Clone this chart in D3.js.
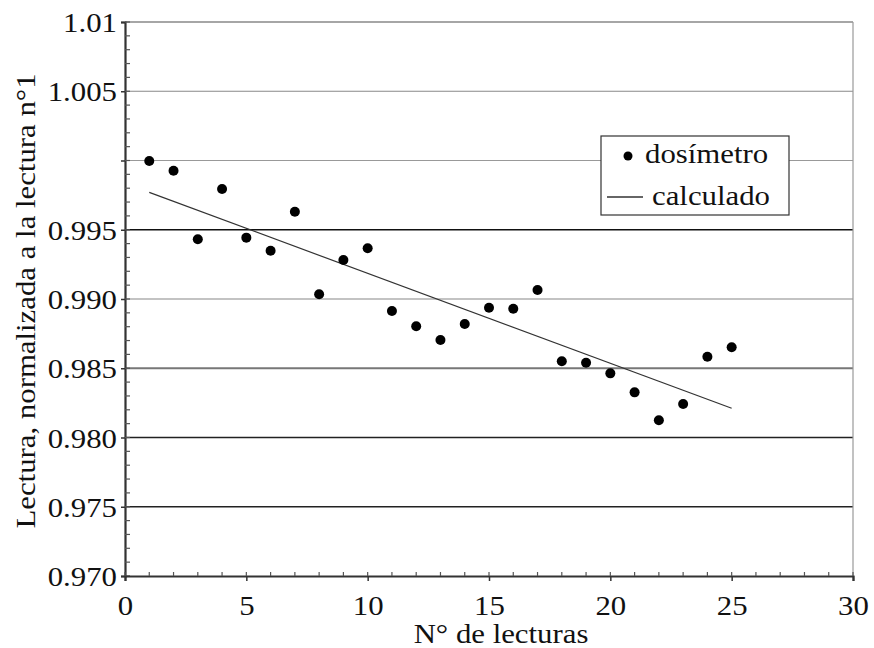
<!DOCTYPE html>
<html><head><meta charset="utf-8"><script src="https://cdn.jsdelivr.net/npm/d3@7"></script></head><body style="margin:0">
<svg id="c" width="874" height="648"></svg>
<script>
const readings = [1,2,3,4,5,6,7,8,9,10,11,12,13,14,15,16,17,18,19,20,21,22,23,24,25];
const dosimetro = [0.99996,0.99926,0.99431,0.99794,0.99443,0.99349,0.99630,0.99034,0.99282,0.99366,
  0.98913,0.98803,0.98704,0.98820,0.98937,0.98930,0.99065,0.98550,0.98540,0.98463,
  0.98326,0.98124,0.98242,0.98583,0.98651];
const calcX = [1,25];
const calcY = [0.99770,0.98211];
const yTicks = [0.970,0.975,0.980,0.985,0.990,0.995,1.000,1.005,1.010];
const yTickLabels = ["0.970","0.975","0.980","0.985","0.990","0.995","","1.005","1.01"];
const xTicks = [0,5,10,15,20,25,30];
const xTickLabels = ["0","5","10","15","20","25","30"];
const legendLabels = ["dos\u00edmetro","calculado"];
const xTitle = "N\u00b0 de lecturas";
const yTitle = "Lectura, normalizada a la lectura n\u00b01";

const FONT = "'Liberation Serif', monospace";
const SX = 1.1;
const svg = d3.select("#c");
const x = d3.scaleLinear().domain([0,30]).range([125,853]);
const y = d3.scaleLinear().domain([0.970,1.010]).range([576,22]);

const gridStyle = {"0.975":["#222",1.4],"0.98":["#222",1.6],"0.985":["#777",1.8],"0.99":["#888",1.2],
  "0.995":["#111",1.6],"1":["#999",1.2],"1.005":["#888",1.2],"1.01":["#888",1.4]};
svg.append("g").selectAll("line").data(yTicks.slice(1)).join("line")
  .attr("x1",x(0)).attr("x2",x(30))
  .attr("y1",d=>y(d)).attr("y2",d=>y(d))
  .attr("stroke",d=>(gridStyle[String(+d.toFixed(3))]||["#888",1.2])[0])
  .attr("stroke-width",d=>(gridStyle[String(+d.toFixed(3))]||["#888",1.2])[1]);
svg.append("line").attr("x1",x(30)).attr("x2",x(30)).attr("y1",y(1.01)).attr("y2",y(0.97))
  .attr("stroke","#999").attr("stroke-width",1.2);

const yAxis = d3.axisLeft(y).tickValues(yTicks).tickSize(4).tickPadding(6)
  .tickFormat((d,i)=>yTickLabels[i]);
const gy = svg.append("g").attr("transform",`translate(${x(0)},0)`).call(yAxis);
gy.select(".domain").attr("stroke","#333").attr("stroke-width",2.2);
gy.selectAll(".tick line").attr("stroke","#333").attr("stroke-width",1.5);
gy.selectAll(".tick text").attr("x",-8/SX).attr("dy","0.34em").attr("fill","#111")
  .attr("transform",`scale(${SX},1)`)
  .style("font-family",FONT).style("font-size","28px");
svg.append("g").selectAll("line").data(d3.range(0,41).map(i=>0.970+i*0.001)).join("line")
  .attr("x1",x(0)).attr("x2",x(0)+5).attr("y1",d=>y(d)).attr("y2",d=>y(d))
  .attr("stroke","#555").attr("stroke-width",1.2);

const xAxis = d3.axisBottom(x).tickValues(xTicks).tickSize(5).tickPadding(12)
  .tickFormat((d,i)=>xTickLabels[i]);
const gx = svg.append("g").attr("transform",`translate(0,${y(0.97)})`).call(xAxis);
gx.select(".domain").attr("stroke","#333").attr("stroke-width",2.2);
gx.selectAll(".tick line").attr("stroke","#333").attr("stroke-width",1.5);
gx.selectAll(".tick text").attr("fill","#111").attr("dy","0.78em")
  .attr("transform",`scale(${SX},1)`)
  .style("font-family",FONT).style("font-size","28px");
svg.append("g").selectAll("line").data(d3.range(0,31)).join("line")
  .attr("x1",d=>x(d)).attr("x2",d=>x(d)).attr("y1",y(0.97)).attr("y2",y(0.97)-4)
  .attr("stroke","#555").attr("stroke-width",1.2);

svg.append("path").datum(calcX.map((d,i)=>[d,calcY[i]]))
  .attr("d",d3.line().x(d=>x(d[0])).y(d=>y(d[1])))
  .attr("fill","none").attr("stroke","#333").attr("stroke-width",1.2);

svg.append("g").selectAll("circle").data(readings).join("circle")
  .attr("cx",d=>x(d)).attr("cy",(d,i)=>y(dosimetro[i])).attr("r",5).attr("fill","#000");

const lg = svg.append("g");
lg.append("rect").attr("x",601).attr("y",136).attr("width",188).attr("height",79)
  .attr("fill","#fff").attr("stroke","#333").attr("stroke-width",1.2);
lg.append("circle").attr("cx",628).attr("cy",156).attr("r",4.5).attr("fill","#000");
lg.append("line").attr("x1",607).attr("x2",643).attr("y1",197).attr("y2",197).attr("stroke","#333").attr("stroke-width",1.3);
const texts = [
  {t:legendLabels[0], x:645, y:163, a:"start", r:0},
  {t:legendLabels[1], x:652, y:205, a:"start", r:0},
  {t:xTitle, x:501, y:643, a:"middle", r:0},
  {t:yTitle, x:35, y:301, a:"middle", r:-90}
];
svg.append("g").selectAll("text").data(texts).join("text")
  .attr("transform",d=>`translate(${d.x},${d.y}) rotate(${d.r}) scale(${SX},1)`)
  .attr("text-anchor",d=>d.a).attr("fill","#111")
  .style("font-family",FONT).style("font-size","28px").text(d=>d.t);
</script>
</body></html>
